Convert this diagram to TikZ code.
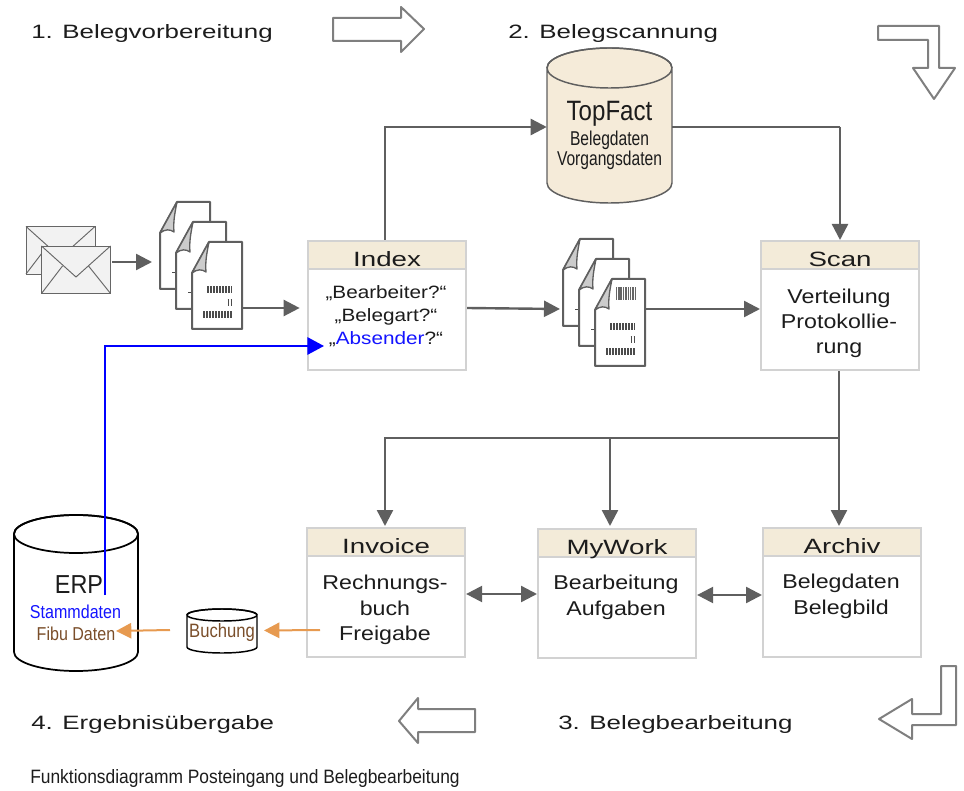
\documentclass[tikz,border=0pt]{standalone}
\usepackage{fontspec}
\setmainfont{Liberation Sans}
\newfontfamily\fwide[FakeStretch=1.34]{Liberation Sans}
\newfontfamily\fbody[FakeStretch=1.16]{Liberation Sans}
\newfontfamily\fnarrow[FakeStretch=0.86]{Liberation Sans}
\newfontfamily\fcap[FakeStretch=0.9]{Liberation Sans}
\newfontfamily\fnarrower[FakeStretch=0.78]{Liberation Sans}
\usetikzlibrary{arrows.meta,calc}
\definecolor{hdr}{HTML}{F3EBD9}
\definecolor{cyl}{HTML}{F5EBD9}
\definecolor{boxline}{HTML}{D2D2D2}
\definecolor{conn}{HTML}{5F5F5F}
\definecolor{outl}{HTML}{7F7F7F}
\definecolor{orng}{HTML}{E79A50}
\definecolor{brwn}{HTML}{7A4E2A}
\definecolor{blu}{HTML}{1414FF}
\definecolor{txt}{HTML}{1C1C1C}
\tikzset{
  every node/.style={text=txt},
  conn/.style={draw=conn,line width=1.8pt,-{Triangle[length=12pt,width=12pt]}},
  conn2/.style={draw=conn,line width=1.8pt,{Triangle[length=12pt,width=12pt]}-{Triangle[length=12pt,width=12pt]}},
  line/.style={draw=conn,line width=1.8pt},
  blueconn/.style={draw=blue,line width=1.5pt,-{Triangle[length=12.5pt,width=13pt]}},
  orngconn/.style={draw=orng,line width=1.5pt,-{Triangle[length=11.5pt,width=11.5pt]}},
  bigarrow/.style={draw=outl,line width=1.5pt,fill=white,line join=round},
  stepbox/.style={draw=boxline,line width=1.6pt,fill=white,anchor=north west,inner sep=0pt,minimum width=118.5pt,minimum height=97pt},
  hdrbox/.style={draw=boxline,line width=1.6pt,fill=hdr,inner sep=0pt,minimum width=118.5pt,minimum height=21pt,anchor=north west,text height=18.2pt,text depth=1pt,font=\fwide\fontsize{15.5}{15.5}\selectfont},
  bodytext/.style={align=center,font=\fbody\fontsize{15}{19}\selectfont,inner sep=0pt,anchor=north},
  phase/.style={font=\fwide\fontsize{14.5}{15}\selectfont,anchor=west,inner sep=0pt},
  paper/.pic={
    \draw[draw=conn,line width=1.5pt,fill=white,line join=round] (17,0)--(50,0)--(50,87)--(0,87)--(0,31)--cycle;
    \draw[draw=conn,line width=1pt,fill=black!20,line join=round] (17,0)--(0,31) .. controls (5,27) and (10,27) .. (14,30) .. controls (13,20) and (15,10) .. (17,0)--cycle;
  },
  backpaper/.pic={
    \pic {paper};
    \draw[draw=black!70,line width=.7pt] (12,70)--(16,70);
  },
  bars/.pic={
    \draw[draw=black!70,line width=5pt,dash pattern=on 1.2pt off 1.05pt] (15,47.5)--(40,47.5);
    \draw[draw=black!70,line width=5pt,dash pattern=on 1.2pt off 1.05pt] (35.5,60.5)--(40,60.5);
    \draw[draw=black!70,line width=5pt,dash pattern=on 1.2pt off 1.05pt] (11,72.5)--(40,72.5);
  },
  envelope/.pic={
    \draw[draw=black!60,line width=.7pt,fill=black!5] (0,0) rectangle (69,47.5);
    \draw[draw=black!60,line width=.7pt] (0,0)--(34.5,31)--(69,0);
    \draw[draw=black!60,line width=.7pt] (0,47.5)--(21,20);
    \draw[draw=black!60,line width=.7pt] (69,47.5)--(47,20);
  },
}
\begin{document}
\begin{tikzpicture}[x=0.75pt,y=-0.75pt]
\useasboundingbox (0,0) rectangle (964,791);
% phase labels
\node[phase] (p1) at (31,33.5) {1. Belegvorbereitung};
\node[phase] (p2) at (508,33.5) {2. Belegscannung};
\node[phase] (p3) at (558,724) {3. Belegbearbeitung};
\node[phase] (p4) at (31,724) {4. Ergebnisübergabe};
\node[anchor=west,inner sep=0pt,font=\fcap\fontsize{14.5}{15}\selectfont] (cap) at (30,778) {Funktionsdiagramm Posteingang und Belegbearbeitung};
% outline arrows
\draw[bigarrow] (333,18)--(401,18)--(401,7)--(424,29)--(401,52)--(401,41)--(333,41)--cycle;
\draw[bigarrow] (878,26)--(939,26)--(939,68)--(955,68)--(934,99)--(913,68)--(928,68)--(928,40)--(878,40)--cycle;
\draw[bigarrow] (941,666)--(956,666)--(956,725)--(912,725)--(912,739)--(879,719)--(912,699)--(912,714)--(941,714)--cycle;
\draw[bigarrow] (475,709)--(418,709)--(418,698)--(399,721)--(418,743)--(418,732)--(475,732)--cycle;
% TopFact cylinder
\draw[draw=conn,line width=1.1pt,fill=cyl] (547,68)--(547,183) arc[start angle=180,end angle=360,x radius=62.5,y radius=-20]--(672,68) arc[start angle=0,end angle=360,x radius=62.5,y radius=-20];
\draw[draw=conn,line width=1.1pt] (547,68) arc[start angle=180,end angle=360,x radius=62.5,y radius=20];
\node[draw=none,minimum width=93.75pt,minimum height=116pt,inner sep=0pt,align=center] (topfact) at (609.5,125.5) {};
\node[align=center,inner sep=0pt,font=\fnarrow\fontsize{21}{22}\selectfont] (tfa) at (609.5,114) {TopFact};
\node[align=center,inner sep=0pt,font=\fnarrower\fontsize{15}{15}\selectfont] (tfb) at (609.5,150) {Belegdaten\\Vorgangsdaten};
% ERP cylinder
\draw[draw=black,line width=1.3pt,fill=white] (14,534)--(14,652) arc[start angle=180,end angle=360,x radius=62,y radius=-19]--(138,534) arc[start angle=0,end angle=360,x radius=62,y radius=-19];
\draw[draw=black,line width=1.3pt] (14,534) arc[start angle=180,end angle=360,x radius=62,y radius=19];
\node[minimum width=93pt,minimum height=118pt,inner sep=0pt] (erp) at (76,593) {};
\node[inner sep=0pt,font=\fcap\fontsize{19.5}{20}\selectfont] (erpa) at (79,585) {ERP};
\node[inner sep=0pt,align=center,font=\fnarrow\fontsize{14}{16}\selectfont] (erpb) at (75.5,612) {\textcolor{blu}{Stammdaten}};
\node[inner sep=0pt,align=center,font=\fnarrow\fontsize{14}{16}\selectfont,text=brwn] (erpc) at (76,634) {Fibu Daten};
% Buchung cylinder
\draw[draw=black,line width=1.1pt,fill=white] (187,615)--(187,647) arc[start angle=180,end angle=360,x radius=35,y radius=-6]--(257,615) arc[start angle=0,end angle=360,x radius=35,y radius=-6];
\draw[draw=black,line width=1.1pt] (187,615) arc[start angle=180,end angle=360,x radius=35,y radius=6];
\node[inner sep=0pt,font=\fnarrow\fontsize{14.5}{16}\selectfont,text=brwn] (buch) at (222,632) {Buchung};
% envelopes
\pic at (26,226.5) {envelope};
\pic at (41.5,246) {envelope};
\coordinate (env-out) at (112,262);
\coordinate (docA-in) at (152,262);
\coordinate (docA-out) at (242,308);
\coordinate (docB-in) at (560,309);
\coordinate (docB-out) at (645,309);
\coordinate (erp-out) at (105,595);
\coordinate (erp-in) at (116,631);
\coordinate (buch-out) at (170,630);
\coordinate (buch-in) at (264,630.5);
\coordinate (inv-out) at (320,630);
\coordinate (junction) at (839,438);
% document stacks
\pic at (160,202) {backpaper};
\pic at (176,222) {backpaper};
\pic at (192,242) {paper};
\pic at (192,242) {bars};
\pic at (563,239) {backpaper};
\pic at (579,259) {backpaper};
\pic at (595,279) {paper};
\pic at (595,279) {bars};
\draw[draw=black!60,line width=9.5pt,dash pattern=on .8pt off .5pt] (616,293.5)--(636,293.5);
% step boxes
\node[stepbox] (index) at (307,240) {};
\node[hdrbox] (indexh) at (307,240) {Index};
\node[bodytext,font=\fbody\fontsize{13.4}{17.2}\selectfont] (indext) at (386,285.5) {„Bearbeiter?“\\„Belegart?“\\„\textcolor{blu}{Absender}?“};
\node[stepbox] (scan) at (760,240) {};
\node[hdrbox] (scanh) at (760,240) {Scan};
\node[bodytext] (scant) at (839,288.5) {Verteilung\\Protokollie-\\rung};
\node[stepbox] (inv) at (306,527) {};
\node[hdrbox] (invh) at (306,527) {Invoice};
\node[bodytext] (invt) at (385,575) {Rechnungs-\\buch\\Freigabe};
\node[stepbox] (mywork) at (537,528) {};
\node[hdrbox] (myworkh) at (537,528) {MyWork};
\node[bodytext] (mywt) at (616,575) {Bearbeitung\\Aufgaben};
\node[stepbox] (archiv) at (762,527) {};
\node[hdrbox] (archivh) at (762,527) {Archiv};
\node[bodytext] (arct) at (841,574) {Belegdaten\\Belegbild};
% connectors
\draw[conn] (env-out)--(docA-in);
\draw[conn,shorten >=5.5pt] (docA-out)--(docA-out -| index.west);
\draw[conn] (index.north -| 385,0) |- (topfact.west |- 0,127);
\draw[line] (topfact.east |- 0,127)--(840,127);
\draw[conn] (840,127)--(scan.north -| 840,0);
\draw[conn] (docA-out -| index.east)--(docB-in);
\draw[conn] (docB-out)--(docB-out -| scan.west);
\draw[line] (scan.south -| junction)--(junction);
\draw[conn] (junction)--(385,438)--(385,526);
\draw[conn] (610,438)--(610,526);
\draw[conn] (junction)--(839,526);
\draw[conn2] (inv.east |- 0,594)--(mywork.west |- 0,594);
\draw[conn2] (mywork.east |- 0,595)--(archiv.west |- 0,595);
\draw[blueconn] (erp-out)--(105,346)--(324,346);
\draw[orngconn] (inv-out)--(buch-in);
\draw[orngconn] (buch-out)--(erp-in);
\end{tikzpicture}
\end{document}
